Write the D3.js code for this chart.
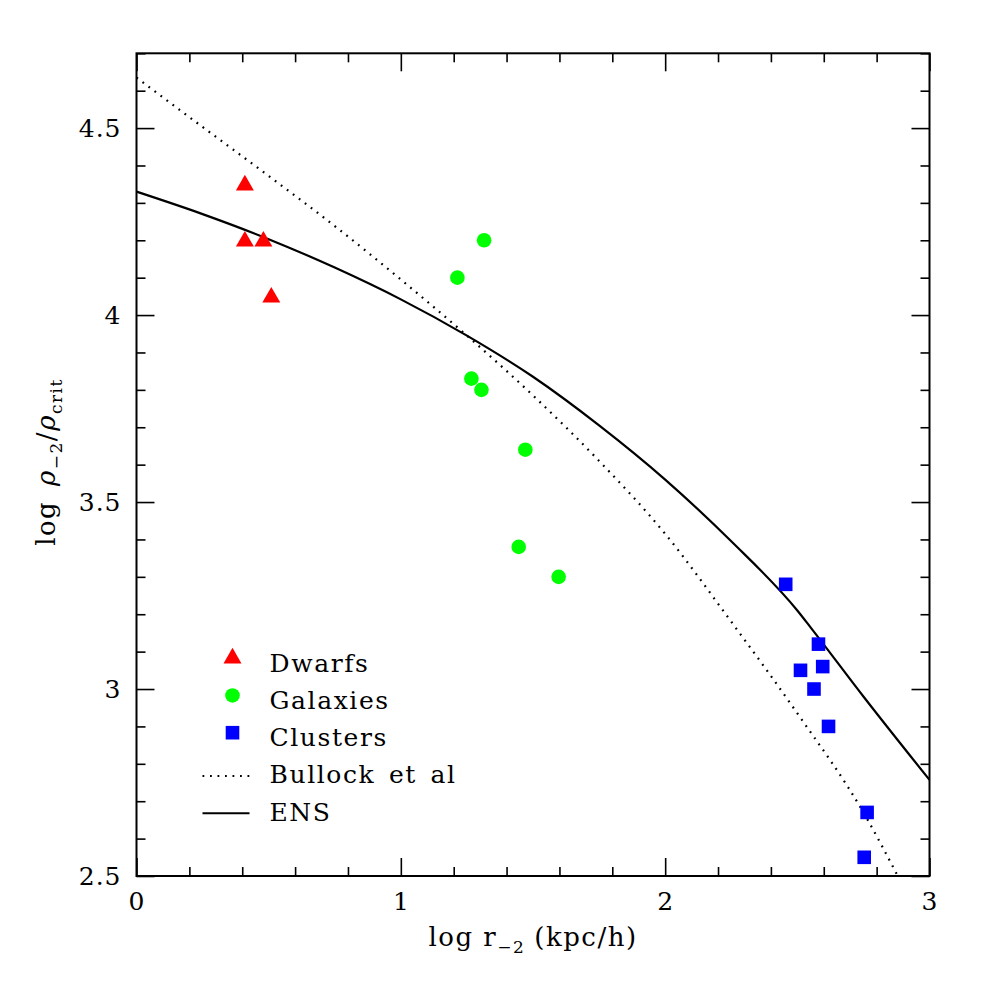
<!DOCTYPE html>
<html>
<head>
<meta charset="utf-8">
<script src="https://cdn.jsdelivr.net/npm/d3@7"></script>
<style>
  body { margin: 0; background: #fff; }
  text { font-family: "DejaVu Serif", "Liberation Serif", serif; fill: #000; }
</style>
</head>
<body>
<svg id="chart" width="981" height="981"></svg>
<script>
// --- data ---
const dwarfX = [0.41, 0.41, 0.48, 0.51];
const dwarfY = [4.35, 4.20, 4.20, 4.05];

const galaxyX = [1.315, 1.214, 1.267, 1.305, 1.471, 1.446, 1.597];
const galaxyY = [4.20, 4.10, 3.83, 3.80, 3.64, 3.38, 3.30];

const clusterX = [2.456, 2.58, 2.512, 2.596, 2.563, 2.618, 2.764, 2.753];
const clusterY = [3.28, 3.12, 3.05, 3.06, 3.00, 2.90, 2.67, 2.55];

// Bullock et al (dotted)
const bullockX = [0, 0.25, 0.5, 0.75, 1.0, 1.25, 1.5, 1.75, 2.0, 2.25, 2.5, 2.75, 2.88];
const bullockY = [4.635, 4.503, 4.372, 4.238, 4.095, 3.945, 3.785, 3.61, 3.415, 3.18, 2.935, 2.67, 2.50];

// ENS (solid)
const ensX = [0, 0.25, 0.5, 0.75, 1.0, 1.25, 1.5, 1.75, 2.0, 2.25, 2.5, 2.55, 2.75, 3.0];
const ensY = [4.33, 4.27, 4.203, 4.127, 4.042, 3.945, 3.835, 3.705, 3.56, 3.395, 3.21, 3.165, 2.98, 2.757];

const xMajor = [0, 1, 2, 3];
const yMajor = [2.5, 3, 3.5, 4, 4.5];

// --- layout ---
const svg = d3.select("#chart");
const pL = 136.5, pR = 929.5, pT = 53.3, pB = 876;

const x = d3.scaleLinear().domain([0, 3]).range([pL, pR]);
const y = d3.scaleLinear().domain([2.5, 4.7]).range([pB, pT]);

const xMinor = d3.range(0, 3.001, 0.2).filter(v => Math.abs(v - Math.round(v)) > 1e-6);
const yMinor = d3.range(2.5, 4.701, 0.1).filter(v => Math.abs(v * 2 - Math.round(v * 2)) > 1e-6);

// --- axes (ticks point inward on all four sides) ---
function addAxis(axis, tx, ty) {
  const g = svg.append("g")
    .attr("transform", `translate(${tx},${ty})`)
    .call(axis);
  g.select(".domain").remove();
  g.selectAll(".tick line").attr("stroke", "#000").attr("stroke-width", 1.6);
  g.selectAll(".tick text")
    .style("font-family", '"DejaVu Serif", serif')
    .attr("font-size", 25)
    .attr("letter-spacing", 1)
    .attr("fill", "#000");
  return g;
}

const fmt = d => d3.format("")(d);

addAxis(d3.axisBottom(x).tickValues(xMajor).tickSize(-18).tickSizeOuter(0).tickPadding(16).tickFormat(fmt), 0, pB);
addAxis(d3.axisBottom(x).tickValues(xMinor).tickSize(-9).tickSizeOuter(0).tickFormat(""), 0, pB);
addAxis(d3.axisTop(x).tickValues(xMajor).tickSize(-18).tickSizeOuter(0).tickFormat(""), 0, pT);
addAxis(d3.axisTop(x).tickValues(xMinor).tickSize(-9).tickSizeOuter(0).tickFormat(""), 0, pT);

addAxis(d3.axisLeft(y).tickValues(yMajor).tickSize(-18).tickSizeOuter(0).tickPadding(15).tickFormat(fmt), pL, 0);
addAxis(d3.axisLeft(y).tickValues(yMinor).tickSize(-9).tickSizeOuter(0).tickFormat(""), pL, 0);
addAxis(d3.axisRight(y).tickValues(yMajor).tickSize(-18).tickSizeOuter(0).tickFormat(""), pR, 0);
addAxis(d3.axisRight(y).tickValues(yMinor).tickSize(-9).tickSizeOuter(0).tickFormat(""), pR, 0);

// frame
svg.append("rect")
  .attr("x", pL).attr("y", pT)
  .attr("width", pR - pL).attr("height", pB - pT)
  .attr("fill", "none").attr("stroke", "#000").attr("stroke-width", 2);

// --- curves ---
svg.append("clipPath").attr("id", "plotclip")
  .append("rect").attr("x", pL).attr("y", pT)
  .attr("width", pR - pL).attr("height", pB - pT);

const line = d3.line().x(d => x(d[0])).y(d => y(d[1])).curve(d3.curveMonotoneX);

svg.append("path")
  .datum(d3.zip(bullockX, bullockY))
  .attr("clip-path", "url(#plotclip)")
  .attr("fill", "none").attr("stroke", "#000")
  .attr("stroke-width", 2.2).attr("stroke-dasharray", "1.8 5.7")
  .attr("d", line);

svg.append("path")
  .datum(d3.zip(ensX, ensY))
  .attr("clip-path", "url(#plotclip)")
  .attr("fill", "none").attr("stroke", "#000")
  .attr("stroke-width", 2.2)
  .attr("d", line);

// --- points ---
const tri = d3.symbol().type(d3.symbolTriangle).size(140);
const circ = d3.symbol().type(d3.symbolCircle).size(168);
const sq = d3.symbol().type(d3.symbolSquare).size(185);

svg.append("g").selectAll("path")
  .data(d3.zip(dwarfX, dwarfY))
  .join("path")
    .attr("d", tri)
    .attr("transform", d => `translate(${x(d[0])},${y(d[1]) + 1})`)
    .attr("fill", "#ff0000");

svg.append("g").selectAll("path")
  .data(d3.zip(galaxyX, galaxyY))
  .join("path")
    .attr("d", circ)
    .attr("transform", d => `translate(${x(d[0])},${y(d[1])})`)
    .attr("fill", "#00ff00");

svg.append("g").selectAll("path")
  .data(d3.zip(clusterX, clusterY))
  .join("path")
    .attr("d", sq)
    .attr("transform", d => `translate(${x(d[0])},${y(d[1])})`)
    .attr("fill", "#0000ff");

// --- legend ---
const legendItems = [
  { label: "Dwarfs",        kind: "sym",  sym: tri,  color: "#ff0000" },
  { label: "Galaxies",      kind: "sym",  sym: circ, color: "#00ff00" },
  { label: "Clusters",      kind: "sym",  sym: sq,   color: "#0000ff" },
  { label: "Bullock et al", kind: "line", dash: "1.8 5.7" },
  { label: "ENS",           kind: "line", dash: null }
];
const legX = pL + 96, legY0 = 671.7, legStep = 37.25;

const leg = svg.append("g");
legendItems.forEach((d, i) => {
  const by = legY0 + i * legStep;
  if (d.kind === "sym") {
    leg.append("path")
      .attr("d", d.sym)
      .attr("transform", `translate(${legX},${by - 13.5})`)
      .attr("fill", d.color);
  } else {
    leg.append("line")
      .attr("x1", legX - 30).attr("x2", legX + 17)
      .attr("y1", by - 7.5).attr("y2", by - 7.5)
      .attr("stroke", "#000").attr("stroke-width", 2)
      .attr("stroke-dasharray", d.dash);
  }
  leg.append("text")
    .attr("x", legX + 37).attr("y", by)
    .attr("font-size", 25)
    .attr("letter-spacing", 1.6)
    .attr("word-spacing", 4)
    .text(d.label);
});

// --- axis titles ---
const xt = svg.append("text")
  .attr("x", (pL + pR) / 2).attr("y", 946)
  .attr("text-anchor", "middle")
  .attr("font-size", 26)
  .attr("letter-spacing", 1.5);
xt.append("tspan").text("log r");
xt.append("tspan").attr("font-size", 17).attr("dy", 7).text("−2");
xt.append("tspan").attr("dy", -7).attr("dx", 9).text("(kpc/h)");

const yt = svg.append("text")
  .attr("transform", `translate(55,462) rotate(-90)`)
  .attr("text-anchor", "middle")
  .attr("font-size", 26)
  .attr("letter-spacing", 1.5);
yt.append("tspan").text("log ");
yt.append("tspan").attr("font-style", "italic").attr("dx", 5).text("ρ");
yt.append("tspan").attr("font-size", 17).attr("dy", 7).text("−2");
yt.append("tspan").attr("dy", -7).text("/");
yt.append("tspan").attr("font-style", "italic").text("ρ");
yt.append("tspan").attr("font-size", 17).attr("dy", 7).text("crit");
</script>
</body>
</html>
